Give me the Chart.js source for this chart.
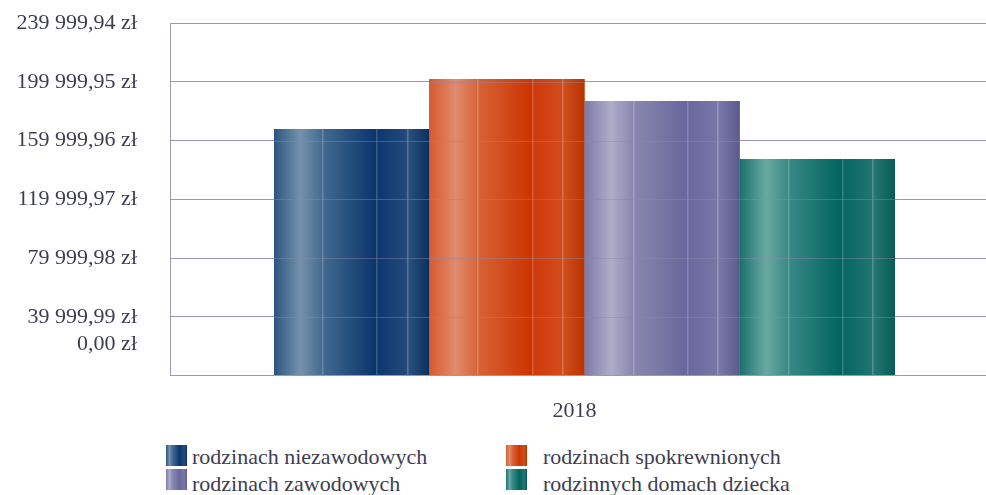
<!DOCTYPE html>
<html>
<head>
<meta charset="utf-8">
<script src="https://cdn.jsdelivr.net/npm/chart.js@4.4.1/dist/chart.umd.min.js"></script>
<style>
  html, body { margin:0; padding:0; background:#fff; }
  #wrap { position:relative; width:986px; height:495px; overflow:hidden; }
  #chartBox { position:absolute; left:0; top:0; width:1000px; height:440px; }
  #legend { position:absolute; left:166px; top:445px; display:grid; grid-template-columns:340px 400px; grid-auto-rows:24px;
            font-family:"Liberation Serif","Times New Roman",serif; font-size:22px; color:#3d3d50; }
  .item { display:flex; align-items:flex-start; white-space:nowrap; }
  .sw { width:21px; height:21px; flex:none; }
  .txt { line-height:23px; margin-left:5px; position:relative; }
  .col2 .txt { margin-left:16px; }
  .row2 .txt { top:3px; }
</style>
</head>
<body>
<div id="wrap">
  <div id="chartBox"><canvas id="c"></canvas></div>
  <div id="legend"></div>
</div>
<script>
// ---- data ----
const categories = ['2018'];
const seriesNames = ['rodzinach niezawodowych', 'rodzinach spokrewnionych', 'rodzinach zawodowych', 'rodzinnych domach dziecka'];
const niezawodowe = [167830];
const spokrewnione = [201870];
const zawodowe = [186890];
const domyDziecka = [147400];
const yTickValues = [0, 39999.99, 79999.98, 119999.97, 159999.96, 199999.95, 239999.94];
const yTickLabels = ['0,00 zł', '39 999,99 zł', '79 999,98 zł', '119 999,97 zł', '159 999,96 zł', '199 999,95 zł', '239 999,94 zł'];

// ---- styles ----
const baseColors = ['#1f4a78', '#cf3f10', '#7a78a6', '#0f6c68'];
const palettes = [
  [[0,'#2b5580'],[0.17,'#7592ad'],[0.31,'#436a90'],[0.66,'#08346a'],[0.67,'#0c386d'],[0.85,'#23497a'],[0.86,'#2d527f'],[1,'#08305e']],
  [[0,'#d65a30'],[0.17,'#e08c6e'],[0.31,'#d86438'],[0.66,'#cc3300'],[0.67,'#cd3a08'],[0.85,'#d54a1c'],[0.86,'#d0501e'],[1,'#b83300']],
  [[0,'#7d7aa6'],[0.17,'#aeacca'],[0.31,'#8a88b0'],[0.66,'#68669a'],[0.67,'#6b699c'],[0.85,'#7876a6'],[0.86,'#7c7aa8'],[1,'#5c5a8c']],
  [[0,'#1a716e'],[0.17,'#6aa8a3'],[0.31,'#3a8985'],[0.66,'#00635f'],[0.67,'#076663'],[0.85,'#1f7571'],[0.86,'#257874'],[1,'#065a57']]
];
const gridColor = '#9a96b4';
const textColor = '#3d3d50';
const fontFamily = '"Liberation Serif","Times New Roman",serif';

const seriesData = [niezawodowe, spokrewnione, zawodowe, domyDziecka];

const barShade = {
  id: 'barShade',
  afterDatasetsDraw(chart) {
    const ctx = chart.ctx;
    const yScale = chart.scales.y;
    chart.data.datasets.forEach((ds, di) => {
      const meta = chart.getDatasetMeta(di);
      if (meta.hidden) return;
      meta.data.forEach(el => {
        const p = el.getProps(['x', 'y', 'base', 'width'], true);
        const left = p.x - p.width / 2;
        const top = Math.min(p.y, p.base), bottom = Math.max(p.y, p.base);
        const g = ctx.createLinearGradient(left, 0, left + p.width, 0);
        palettes[di].forEach(([o, c]) => g.addColorStop(o, c));
        ctx.save();
        ctx.fillStyle = g;
        ctx.fillRect(left, top, p.width, bottom - top);
        ctx.fillStyle = 'rgba(255,255,255,0.2)';
        [0.31, 0.66, 0.855].forEach(f => ctx.fillRect(Math.round(left + p.width * f), top, 1.5, bottom - top));
        ctx.strokeStyle = 'rgba(140,136,170,0.45)';
        ctx.lineWidth = 1;
        yScale.ticks.forEach(t => {
          const py = Math.round(yScale.getPixelForValue(t.value)) + 0.5;
          if (py > top + 1 && py < bottom - 1) {
            ctx.beginPath(); ctx.moveTo(left, py); ctx.lineTo(left + p.width, py); ctx.stroke();
          }
        });
        ctx.restore();
      });
    });
  }
};

const chart = new Chart(document.getElementById('c'), {
  type: 'bar',
  data: {
    labels: categories,
    datasets: seriesNames.map((n, i) => ({
      label: n,
      data: seriesData[i],
      backgroundColor: baseColors[i],
      borderWidth: 0,
      categoryPercentage: 0.749,
      barPercentage: 1.0
    }))
  },
  options: {
    responsive: true,
    maintainAspectRatio: false,
    animation: false,
    layout: { padding: { top: 23, right: 1, left: 11, bottom: 15 } },
    plugins: { legend: { display: false }, tooltip: { enabled: false } },
    scales: {
      x: {
        grid: { display: false, drawTicks: false },
        border: { display: true, color: gridColor, width: 1 },
        ticks: { color: textColor, font: { family: fontFamily, size: 22 }, padding: 23, labelOffset: -10 },
        afterFit: (scale) => { scale.height = 49.5; scale.paddingLeft = 0; scale.paddingRight = 0; }
      },
      y: {
        min: 0,
        max: 239999.94,
        afterBuildTicks: (scale) => { scale.ticks = yTickValues.map(v => ({ value: v })); },
        afterFit: (scale) => { scale.width = 159; scale.paddingTop = 0; scale.paddingBottom = 0; },
        grid: { color: gridColor, lineWidth: 1, drawTicks: false },
        border: { display: true, color: gridColor, width: 1 },
        ticks: {
          autoSkip: false,
          color: textColor,
          font: { family: fontFamily, size: 22, lineHeight: 1.4 },
          padding: 33,
          callback: (value, index) => {
            const lbl = yTickLabels[index];
            return index === 0 ? [lbl, '', ''] : lbl;
          }
        }
      }
    }
  },
  plugins: [barShade]
});

// HTML legend (two columns, like the original)
const legend = document.getElementById('legend');
[0, 1, 2, 3].forEach((di, k) => {
  const item = document.createElement('div');
  item.className = 'item' + (k % 2 === 1 ? ' col2' : '') + (k >= 2 ? ' row2' : '');
  const sw = document.createElement('span');
  sw.className = 'sw';
  sw.style.background = 'linear-gradient(to right,' + palettes[di].map(([o, c]) => c + ' ' + (o * 100) + '%').join(',') + ')';
  const t = document.createElement('span');
  t.className = 'txt';
  t.textContent = chart.data.datasets[di].label;
  item.appendChild(sw); item.appendChild(t);
  legend.appendChild(item);
});
</script>
</body>
</html>
